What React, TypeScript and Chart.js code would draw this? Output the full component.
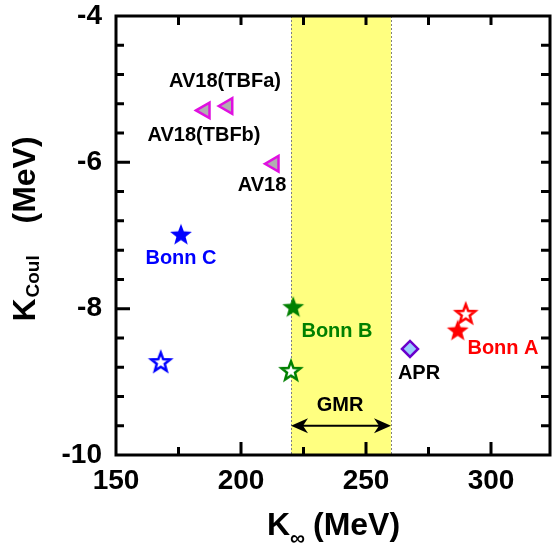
import React, { useEffect, useRef } from 'react';
import { Chart, registerables } from 'chart.js';

Chart.register(...registerables);

const FONT = "'Liberation Sans', Arial, Helvetica, sans-serif";

// ---- data ----
const av18Names = ['AV18(TBFa)', 'AV18(TBFb)', 'AV18'];
const av18K = [194.7, 185.6, 213.2];
const av18Kc = [-5.23, -5.29, -6.02];

const bonnNames = ['Bonn A', 'Bonn B', 'Bonn C'];
const bonnColors = ['#FF0000', '#008000', '#0000FF'];
const bonnK = [286.7, 220.9, 176.0];
const bonnKc = [-8.3, -7.98, -6.99];
const bonnOpenK = [289.9, 220.0, 167.9];
const bonnOpenKc = [-8.07, -8.85, -8.73];

const aprK = [267.6];
const aprKc = [-8.55];

const gmrRange = [220, 260];
const gmrArrowKc = -9.6;

const xTicks = [150, 200, 250, 300];
const yTicks = [-10, -8, -6, -4];
const xMinorTicks = [175, 200, 225, 250, 275, 300];
const yMinorTicks = [-9.6, -9.2, -8.8, -8.4, -8, -7.6, -7.2, -6.8, -6.4, -6, -5.6, -5.2, -4.8, -4.4];
const xMin = 150;
const xMax = 323.6;
const yMin = -10;
const yMax = -4;

const labelTexts = ['AV18(TBFa)', 'AV18(TBFb)', 'AV18', 'Bonn C', 'Bonn B', 'APR', 'Bonn A', 'GMR'];
const labelK = [193.6, 185.2, 208.4, 176.0, 238.4, 271.2, 304.8, 239.6];
const labelKc = [-4.9, -5.63, -6.32, -7.31, -8.31, -8.88, -8.55, -9.33];
const labelColors = ['#000000', '#000000', '#000000', '#0000FF', '#008000', '#000000', '#FF0000', '#000000'];

function makeStar(color: string, filled: boolean): HTMLCanvasElement {
  const c = document.createElement('canvas');
  c.width = 28;
  c.height = 28;
  const g = c.getContext('2d')!;
  const R = filled ? 11.5 : 10;
  const r = R * 0.42;
  g.beginPath();
  for (let i = 0; i < 10; i++) {
    const ang = -Math.PI / 2 + (i * Math.PI) / 5;
    const rad = i % 2 === 0 ? R : r;
    const px = 14 + Math.cos(ang) * rad;
    const py = 14.5 + Math.sin(ang) * rad;
    if (i === 0) g.moveTo(px, py);
    else g.lineTo(px, py);
  }
  g.closePath();
  if (filled) {
    g.fillStyle = color;
    g.fill();
  } else {
    g.fillStyle = '#FFFFFF';
    g.fill();
    g.lineWidth = 2.5;
    g.lineJoin = 'miter';
    g.strokeStyle = color;
    g.stroke();
  }
  return c;
}

const zeroPad = (s: any) => {
  s.paddingTop = 0;
  s.paddingBottom = 0;
  s.paddingLeft = 0;
  s.paddingRight = 0;
};

const decorPlugin = {
  id: 'decor',
  beforeDatasetsDraw(chart: any) {
    const { ctx, chartArea: a, scales } = chart;
    const x = scales.x;
    const y = scales.y;
    const x0 = x.getPixelForValue(gmrRange[0]);
    const x1 = x.getPixelForValue(gmrRange[1]);
    ctx.save();
    ctx.fillStyle = '#FFFF80';
    ctx.fillRect(x0, a.top, x1 - x0, a.bottom - a.top);
    ctx.strokeStyle = '#808080';
    ctx.lineWidth = 1;
    ctx.setLineDash([2, 2]);
    [x0, x1].forEach((xx) => {
      ctx.beginPath();
      ctx.moveTo(Math.round(xx) + 0.5, a.top);
      ctx.lineTo(Math.round(xx) + 0.5, a.bottom);
      ctx.stroke();
    });
    ctx.setLineDash([]);
    // GMR double arrow
    const ay = y.getPixelForValue(gmrArrowKc);
    const hl = 17;
    const hh = 7.5;
    ctx.strokeStyle = '#000';
    ctx.fillStyle = '#000';
    ctx.lineWidth = 2;
    ctx.beginPath();
    ctx.moveTo(x0 + 8, ay);
    ctx.lineTo(x1 - 8, ay);
    ctx.stroke();
    ctx.beginPath();
    ctx.moveTo(x0, ay);
    ctx.lineTo(x0 + hl, ay - hh);
    ctx.lineTo(x0 + hl - 5, ay);
    ctx.lineTo(x0 + hl, ay + hh);
    ctx.closePath();
    ctx.fill();
    ctx.beginPath();
    ctx.moveTo(x1, ay);
    ctx.lineTo(x1 - hl, ay - hh);
    ctx.lineTo(x1 - hl + 5, ay);
    ctx.lineTo(x1 - hl, ay + hh);
    ctx.closePath();
    ctx.fill();
    ctx.restore();
  },
  afterDatasetsDraw(chart: any) {
    const { ctx, chartArea: a, scales } = chart;
    const x = scales.x;
    const y = scales.y;
    ctx.save();
    ctx.strokeStyle = '#000';
    ctx.lineWidth = 3;
    ctx.lineCap = 'butt';
    // ticks
    ctx.beginPath();
    xMinorTicks.forEach((v) => {
      const px = x.getPixelForValue(v);
      const major = v % 50 === 0;
      ctx.moveTo(px, a.bottom);
      ctx.lineTo(px, a.bottom - (major ? 13 : 8));
      ctx.moveTo(px, a.top);
      ctx.lineTo(px, a.top + 9);
    });
    yMinorTicks.forEach((v) => {
      const py = y.getPixelForValue(v);
      const major = yTicks.some((t) => Math.abs(t - v) < 1e-6);
      ctx.moveTo(a.left, py);
      ctx.lineTo(a.left + (major ? 14 : 8), py);
      ctx.moveTo(a.right, py);
      ctx.lineTo(a.right - 9, py);
    });
    ctx.stroke();
    // frame
    ctx.strokeRect(a.left, a.top, a.right - a.left, a.bottom - a.top);

    // annotation labels
    ctx.font = `bold 20px ${FONT}`;
    ctx.textAlign = 'center';
    ctx.textBaseline = 'middle';
    labelTexts.forEach((t, i) => {
      ctx.fillStyle = labelColors[i];
      ctx.fillText(t, x.getPixelForValue(labelK[i]), y.getPixelForValue(labelKc[i]));
    });
    ctx.restore();
  },
  afterDraw(chart: any) {
    const { ctx, chartArea: a } = chart;
    ctx.save();
    ctx.fillStyle = '#000';
    ctx.textAlign = 'left';
    ctx.textBaseline = 'alphabetic';
    // x title
    const cx = (a.left + a.right) / 2;
    const bx = cx - 66;
    const by = a.bottom + 80;
    ctx.font = `bold 32px ${FONT}`;
    ctx.fillText('K', bx, by);
    ctx.font = `bold 21px ${FONT}`;
    ctx.fillText('\u221E', bx + 23, by + 10);
    ctx.font = `bold 32px ${FONT}`;
    ctx.fillText('(MeV)', bx + 46, by);
    // y title
    ctx.translate(35, (a.top + a.bottom) / 2 + 86);
    ctx.rotate(-Math.PI / 2);
    ctx.font = `bold 32px ${FONT}`;
    ctx.fillText('K', 0, 0);
    ctx.font = `bold 19px ${FONT}`;
    ctx.fillText('Coul', 24, 4);
    ctx.font = `bold 32px ${FONT}`;
    ctx.fillText('(MeV)', 98, 0);
    ctx.restore();
  },
};

export default function App() {
  const ref = useRef<HTMLCanvasElement | null>(null);

  useEffect(() => {
    if (!ref.current) return;
    const filledStars = bonnColors.map((c) => makeStar(c, true));
    const openStars = bonnColors.map((c) => makeStar(c, false));

    const chart = new Chart(ref.current, {
      type: 'scatter',
      data: {
        datasets: [
          {
            label: 'AV18',
            data: av18K.map((k, i) => ({ x: k, y: av18Kc[i] })),
            pointStyle: 'triangle',
            rotation: -90,
            pointRadius: 9,
            backgroundColor: '#B0B0B0',
            borderColor: '#E010E0',
            borderWidth: 2.5,
          },
          {
            label: 'Bonn',
            data: bonnK.map((k, i) => ({ x: k, y: bonnKc[i] })),
            pointStyle: filledStars as any,
            pointRadius: 11,
          },
          {
            label: 'Bonn open',
            data: bonnOpenK.map((k, i) => ({ x: k, y: bonnOpenKc[i] })),
            pointStyle: openStars as any,
            pointRadius: 11,
          },
          {
            label: 'APR',
            data: aprK.map((k, i) => ({ x: k, y: aprKc[i] })),
            pointStyle: 'rectRot',
            pointRadius: 8,
            backgroundColor: '#99CCFF',
            borderColor: '#6A00CC',
            borderWidth: 2.5,
          },
        ],
      },
      options: {
        animation: false,
        responsive: false,
        devicePixelRatio: 1,
        layout: { autoPadding: false, padding: { top: 16, right: 4, left: 0, bottom: 0 } },
        plugins: {
          legend: { display: false },
          tooltip: { enabled: false },
        },
        scales: {
          x: {
            type: 'linear',
            min: xMin,
            max: xMax,
            grid: { display: false, drawTicks: false },
            border: { display: false },
            ticks: {
              color: '#000',
              padding: 12,
              maxRotation: 0,
              font: { family: FONT, size: 28, weight: 'bold', lineHeight: 1 },
            },
            afterBuildTicks: (s: any) => {
              s.ticks = xTicks.map((v) => ({ value: v }));
            },
            afterFit: (s: any) => {
              s.height = 89;
              zeroPad(s);
            },
          },
          y: {
            type: 'linear',
            min: yMin,
            max: yMax,
            grid: { display: false, drawTicks: false },
            border: { display: false },
            ticks: {
              color: '#000',
              padding: 14,
              font: { family: FONT, size: 28, weight: 'bold', lineHeight: 1 },
            },
            afterBuildTicks: (s: any) => {
              s.ticks = yTicks.map((v) => ({ value: v }));
            },
            afterFit: (s: any) => {
              s.width = 116;
              zeroPad(s);
            },
          },
        },
      } as any,
      plugins: [decorPlugin],
    });
    return () => chart.destroy();
  }, []);

  return (
    <div style={{ position: 'absolute', left: 0, top: 0, width: 554, height: 544, background: '#fff' }}>
      <canvas ref={ref} width={554} height={544} style={{ width: 554, height: 544 }} />
    </div>
  );
}
